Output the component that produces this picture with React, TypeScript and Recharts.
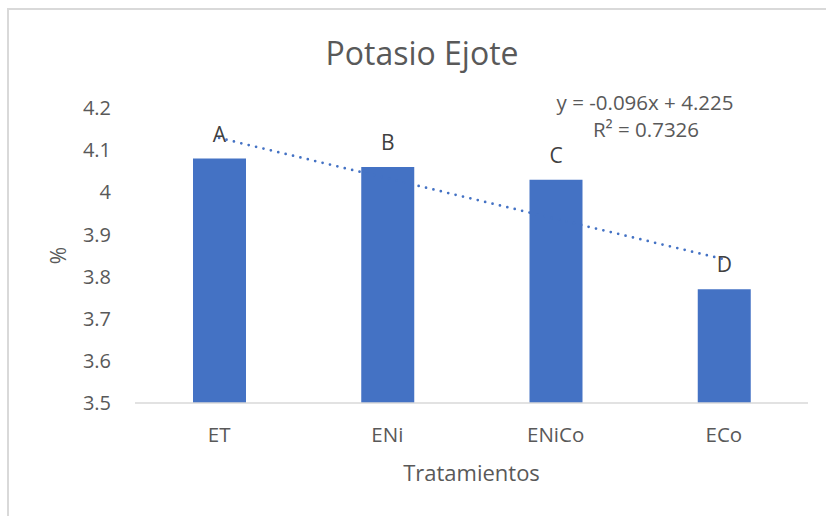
import { ComposedChart, Bar, Line, XAxis, YAxis, LabelList } from "recharts";

const categories = ["ET", "ENi", "ENiCo", "ECo"];
const potasio = [4.08, 4.06, 4.03, 3.77];
const letters = ["A", "B", "C", "D"];
// linear trendline as drawn: y = -0.096x + 4.225
const trend = [4.129, 4.033, 3.937, 3.841];
const yTicks = [3.5, 3.6, 3.7, 3.8, 3.9, 4, 4.1, 4.2];

const FONT = "'Open Sans', 'Noto Sans', sans-serif";
const TEXT = "#595959";
const BLUE = "#4472C4";

const data = categories.map((name, i) => ({
  name,
  value: potasio[i],
  letter: letters[i],
  trend: trend[i],
}));

export default function App() {
  return (
    <div style={{ position: "relative", width: 826, height: 516, background: "#fff", overflow: "hidden" }}>
      <style>{"body{margin:0}"}</style>
      <div
        style={{
          position: "absolute",
          left: 7,
          top: 8,
          width: 840,
          height: 530,
          borderLeft: "2px solid #d9d9d9",
          borderTop: "2px solid #d9d9d9",
        }}
      />
      <ComposedChart
        width={826}
        height={516}
        data={data}
        margin={{ top: 108, right: 18, bottom: 0, left: 0 }}
        style={{ position: "absolute", left: 0, top: 0 }}
      >
        <XAxis
          dataKey="name"
          height={113}
          tickLine={false}
          tickSize={0}
          tickMargin={24}
          axisLine={{ stroke: "#d9d9d9", strokeWidth: 1.5 }}
          tick={{ fontSize: 20.5, fill: TEXT, fontFamily: FONT }}
          label={{
            value: "Tratamientos",
            position: "insideBottom",
            offset: 35,
            fontSize: 22,
            fill: TEXT,
            fontFamily: FONT,
          }}
        />
        <YAxis
          width={135}
          domain={[3.5, 4.2]}
          ticks={yTicks}
          interval={0}
          axisLine={false}
          tickLine={false}
          tickSize={0}
          tickMargin={24}
          tick={{ fontSize: 20, fill: TEXT, fontFamily: FONT }}
          label={({ viewBox }: any) => (
            <text
              x={58}
              y={viewBox.y + viewBox.height / 2}
              transform={`rotate(-90 58 ${viewBox.y + viewBox.height / 2})`}
              textAnchor="middle"
              dominantBaseline="central"
              fontSize={21}
              fill={TEXT}
              fontFamily={FONT}
            >
              %
            </text>
          )}
        />
        <Line
          dataKey="trend"
          stroke={BLUE}
          strokeWidth={2.75}
          strokeDasharray="0 7.6"
          strokeLinecap="round"
          dot={false}
          activeDot={false}
          isAnimationActive={false}
        />
        <Bar dataKey="value" fill={BLUE} barSize={53} isAnimationActive={false}>
          <LabelList
            dataKey="letter"
            position="top"
            offset={17}
            fontSize={21}
            fill="#404040"
            fontFamily={FONT}
          />
        </Bar>
      </ComposedChart>
      <svg width={826} height={516} style={{ position: "absolute", left: 0, top: 0, pointerEvents: "none" }}>
        <text x={422} y={65} textAnchor="middle" fontSize={32} fill={TEXT} fontFamily={FONT}>
          Potasio Ejote
        </text>
        <text x={645} y={110} textAnchor="middle" fontSize={20.5} fill={TEXT} fontFamily={FONT}>
          y = -0.096x + 4.225
        </text>
        <text x={646} y={137} textAnchor="middle" fontSize={20.5} fill={TEXT} fontFamily={FONT}>
          R² = 0.7326
        </text>
      </svg>
    </div>
  );
}
